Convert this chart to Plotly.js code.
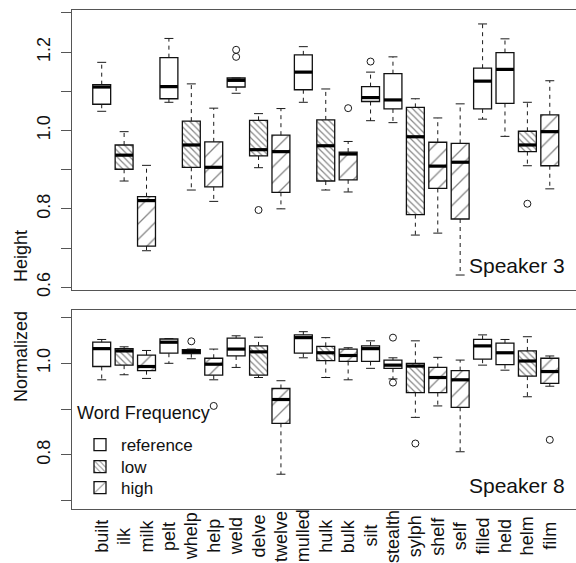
<!DOCTYPE html>
<html><head><meta charset="utf-8">
<script src="https://cdn.plot.ly/plotly-3.0.1.min.js"></script>
<style>html,body{margin:0;padding:0;background:#fff;overflow:hidden}</style>
</head><body><div id="chart" style="width:576px;height:563px"></div>
<script>
const words = ["built","ilk","milk","pelt","whelp","help","weld","delve","twelve","mulled","hulk","bulk","silt","stealth","sylph","shelf","self","filled","held","helm","film"];
const freq = ["reference","low","high","reference","low","high","reference","low","high","reference","low","high","reference","reference","low","high","high","reference","reference","low","high"];

// Speaker 3
const s3_lo  = [1.049,0.871,0.693,1.072,0.848,0.819,1.095,0.905,0.800,1.072,0.848,0.843,1.025,1.020,0.733,0.738,0.631,1.029,0.985,0.910,0.851];
const s3_q1  = [1.067,0.901,0.705,1.081,0.906,0.856,1.111,0.935,0.842,1.104,0.871,0.874,1.074,1.055,0.785,0.852,0.774,1.055,1.069,0.946,0.910];
const s3_med = [1.111,0.937,0.821,1.112,0.963,0.906,1.128,0.951,0.946,1.149,0.961,0.940,1.084,1.078,0.984,0.909,0.919,1.126,1.156,0.963,0.997];
const s3_q3  = [1.117,0.963,0.831,1.186,1.024,0.971,1.134,1.026,0.988,1.193,1.027,0.945,1.112,1.145,1.059,0.970,0.967,1.159,1.199,0.998,1.040];
const s3_hi  = [1.174,0.997,0.911,1.235,1.119,1.057,1.134,1.043,1.056,1.214,1.106,0.972,1.149,1.188,1.081,1.032,1.068,1.272,1.234,1.072,1.127];
const s3_outWord = ["weld","weld","delve","bulk","silt","helm"];
const s3_outVal  = [1.206,1.188,0.797,1.057,1.176,0.813];

// Speaker 8
const s8_lo  = [0.964,0.975,0.967,1.000,1.010,0.964,0.991,0.969,0.758,1.012,0.969,0.964,0.989,0.966,0.882,0.907,0.807,0.996,0.985,0.927,0.950];
const s8_q1  = [0.993,0.996,0.984,1.022,1.021,0.974,1.016,0.974,0.869,1.022,1.006,1.004,1.004,0.989,0.936,0.936,0.904,1.009,0.997,0.972,0.956];
const s8_med = [1.032,1.027,0.993,1.046,1.026,0.998,1.031,1.025,0.921,1.056,1.023,1.017,1.032,0.996,0.994,0.969,0.964,1.038,1.023,1.005,0.982];
const s8_q3  = [1.046,1.032,1.018,1.053,1.030,1.011,1.055,1.038,0.945,1.062,1.037,1.031,1.038,1.007,1.000,0.991,0.984,1.052,1.044,1.027,1.011];
const s8_hi  = [1.052,1.036,1.028,1.054,1.031,1.031,1.060,1.057,0.962,1.069,1.056,1.034,1.049,1.012,1.049,1.013,1.007,1.062,1.052,1.058,1.016];
const s8_outWord = ["whelp","help","stealth","stealth","sylph","film"];
const s8_outVal  = [1.048,0.907,1.056,0.958,0.825,0.833];

const freqTypes = ["reference","low","high"];
const legendTitle = "Word Frequency";
const patterns = {reference:"", low:"\\", high:"/"};
const patSize = {reference:8, low:4.5, high:11};
const patSolid = {reference:0.1, low:0.28, high:0.12};
const legendIds = {reference:"legend", low:"legend2", high:"legend3"};

const BOXW = 0.8, CAPW = 0.2;
const ink = "#1a1a1a";

function panelTraces(lo,q1,med,q3,hi,outW,outV,xa,ya,legend){
  const tr = [];
  const idx = words.map((w,i)=>i+1);
  const wx=[], wy=[];
  idx.forEach((x,i)=>{ wx.push(x,x,null,x,x,null); wy.push(q3[i],hi[i],null,q1[i],lo[i],null); });
  tr.push({type:"scatter",mode:"lines",x:wx,y:wy,xaxis:xa,yaxis:ya,showlegend:false,hoverinfo:"skip",
    line:{color:ink,width:1,dash:"4px,4px"}});
  const cx=[], cy=[];
  idx.forEach((x,i)=>{ cx.push(x-CAPW,x+CAPW,null,x-CAPW,x+CAPW,null); cy.push(hi[i],hi[i],null,lo[i],lo[i],null); });
  tr.push({type:"scatter",mode:"lines",x:cx,y:cy,xaxis:xa,yaxis:ya,showlegend:false,hoverinfo:"skip",
    line:{color:ink,width:1}});
  freqTypes.forEach(ft=>{
    const xs=[], bs=[], hs=[];
    idx.forEach((x,i)=>{ if(freq[i]===ft){ xs.push(x); bs.push(q1[i]); hs.push(q3[i]-q1[i]); }});
    tr.push({type:"bar",x:xs,y:hs,base:bs,width:BOXW,xaxis:xa,yaxis:ya,name:ft,showlegend:legend,legend:legendIds[ft],
      marker:{color:"#ffffff",line:{color:"#111",width:1.3},
        pattern:{shape:patterns[ft],fgcolor:"#111",bgcolor:"#ffffff",size:patSize[ft],solidity:patSolid[ft],fillmode:"overlay"}}});
  });
  const mx=[], my=[];
  idx.forEach((x,i)=>{ mx.push(x-BOXW/2,x+BOXW/2,null); my.push(med[i],med[i],null); });
  tr.push({type:"scatter",mode:"lines",x:mx,y:my,xaxis:xa,yaxis:ya,showlegend:false,hoverinfo:"skip",
    line:{color:"#000",width:3.2}});
  tr.push({type:"scatter",mode:"markers",x:outW.map(w=>words.indexOf(w)+1),y:outV,xaxis:xa,yaxis:ya,showlegend:false,
    marker:{symbol:"circle-open",size:7,color:ink,line:{width:1,color:ink}}});
  return tr;
}

const data = [].concat(
  panelTraces(s3_lo,s3_q1,s3_med,s3_q3,s3_hi,s3_outWord,s3_outVal,"x","y",false),
  panelTraces(s8_lo,s8_q1,s8_med,s8_q3,s8_hi,s8_outWord,s8_outVal,"x2","y2",true)
);

const FONT = "Liberation Sans, Arial, Helvetica, sans-serif";
const xr = [-0.326, 22.17];
const axisLine = "#555";
const s3Ticks = [0.6,0.7,0.8,0.9,1.0,1.1,1.2,1.3];
const s3Text  = ["0.6","","0.8","","1.0","","1.2",""];
const s8Ticks = [0.7,0.8,0.9,1.0,1.1];
const s8Text  = ["","0.8","","1.0",""];

const yCommon = {ticks:"outside",ticklen:10,tickcolor:axisLine,tickwidth:1,tickangle:-90,showline:true,linecolor:axisLine,linewidth:1,
  showgrid:false,zeroline:false,tickfont:{size:18,color:"#111",family:FONT},ticklabelstandoff:4};

// plot area in px: left 72, top 10, bottom 509, width 504, height 499
const px = v => (v-72)/504;
const py = v => (509-v)/499;

const legBase = {x:px(79),xanchor:"left",yanchor:"middle",bgcolor:"rgba(0,0,0,0)",borderwidth:0,
  font:{size:17,family:FONT,color:"#111"},itemwidth:32};

const annotations = [
  {xref:"paper",yref:"paper",x:0.982,y:0.487,xanchor:"right",yanchor:"middle",text:"Speaker 3",showarrow:false,
    font:{size:21,family:FONT,color:"#111"}},
  {xref:"paper",yref:"paper",x:0.982,y:0.048,xanchor:"right",yanchor:"middle",text:"Speaker 8",showarrow:false,
    font:{size:21,family:FONT,color:"#111"}},
  {xref:"paper",yref:"paper",x:px(21),y:py(256),xanchor:"center",yanchor:"middle",text:"Height",textangle:-90,showarrow:false,
    font:{size:18,family:FONT,color:"#111"}},
  {xref:"paper",yref:"paper",x:px(21),y:py(357),xanchor:"center",yanchor:"middle",text:"Normalized",textangle:-90,showarrow:false,
    font:{size:18,family:FONT,color:"#111"}},
  {xref:"paper",yref:"paper",x:px(75),y:py(413),xanchor:"left",yanchor:"middle",text:legendTitle,showarrow:false,
    font:{size:18,family:FONT,color:"#111"}}
];
words.forEach((w,i)=>annotations.push({xref:"x2",yref:"paper",x:i+1,y:py(536),xanchor:"center",yanchor:"middle",
  text:w,textangle:-90,showarrow:false,font:{size:18,family:FONT,color:"#111"}}));

const layout = {
  width:576,height:563,
  margin:{l:72,r:0,t:10,b:54},
  paper_bgcolor:"#fff",plot_bgcolor:"#fff",
  font:{family:FONT,color:"#111"},
  barmode:"overlay",
  xaxis:{domain:[0,1],range:xr,anchor:"y",showline:true,mirror:true,linecolor:axisLine,linewidth:1,
    showticklabels:false,ticks:"",showgrid:false,zeroline:false},
  yaxis:Object.assign({domain:[0.4389,1],range:[0.5928,1.3076],anchor:"x",tickvals:s3Ticks,ticktext:s3Text},yCommon),
  xaxis2:{domain:[0,1],range:xr,anchor:"y2",showline:true,mirror:true,linecolor:axisLine,linewidth:1,
    showticklabels:false,ticks:"",showgrid:false,zeroline:false},
  yaxis2:Object.assign({domain:[0,0.3988],range:[0.6821,1.1163],anchor:"x2",tickvals:s8Ticks,ticktext:s8Text},yCommon),
  showlegend:true,
  legend:Object.assign({y:py(445)},legBase),
  legend2:Object.assign({y:py(467)},legBase),
  legend3:Object.assign({y:py(488)},legBase),
  annotations:annotations
};

Plotly.newPlot("chart",data,layout,{displayModeBar:false,staticPlot:true});
</script>
</body></html>
